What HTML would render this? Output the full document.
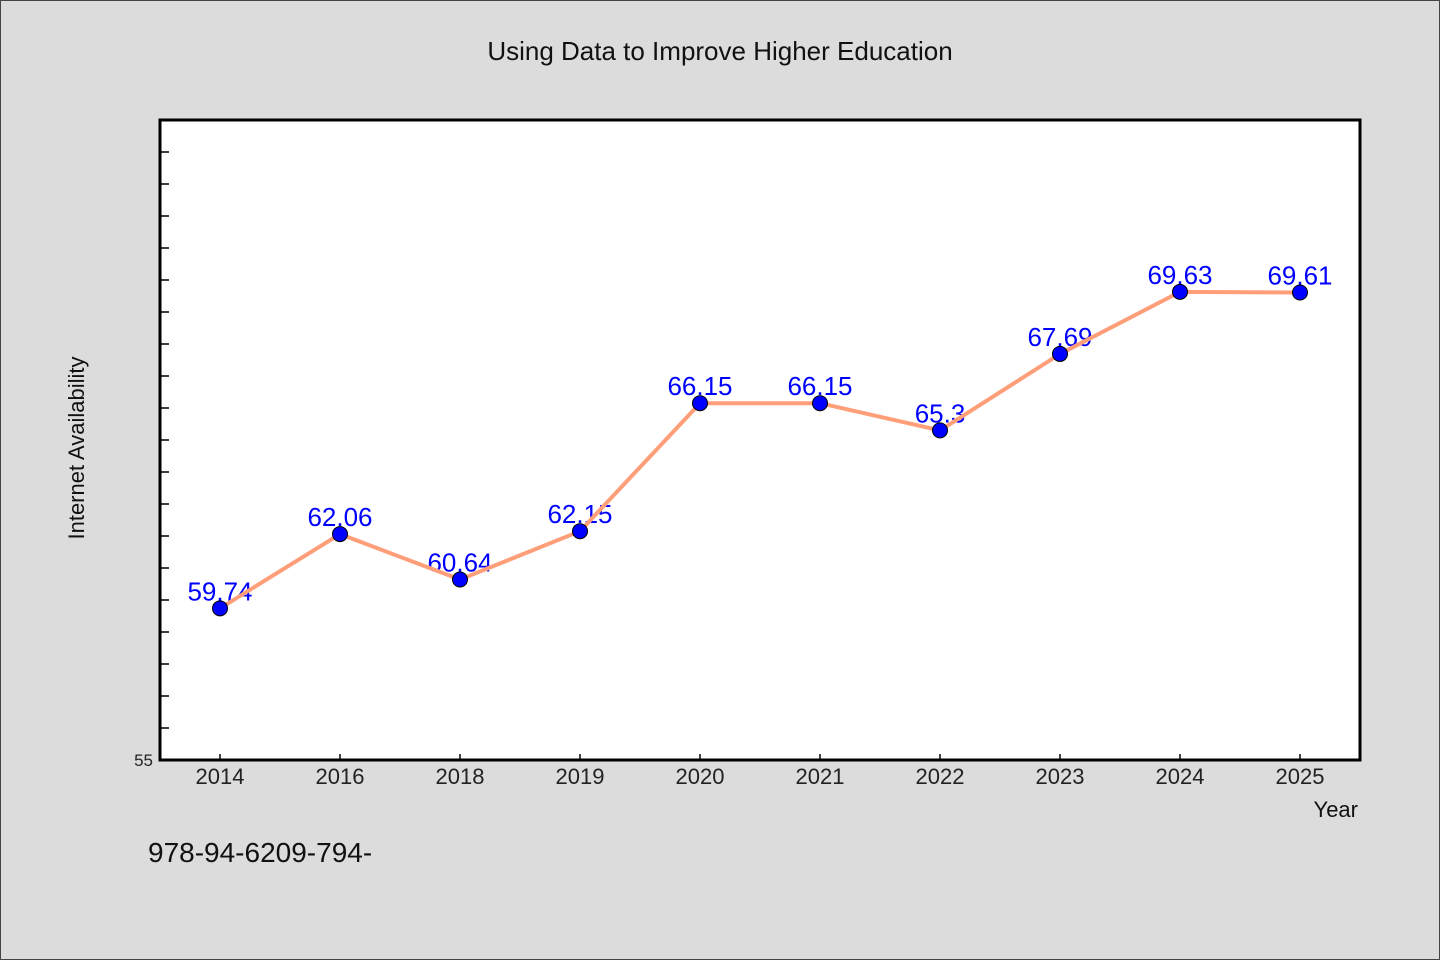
<!DOCTYPE html>
<html><head><meta charset="utf-8"><style>
body{margin:0;background:#dcdcdc;}
svg{display:block;}
text{font-family:"WenQuanYi Zen Hei","Liberation Sans",sans-serif;}
</style></head><body>
<svg id="c" width="1440" height="960" xmlns="http://www.w3.org/2000/svg">
<rect x="0.5" y="0.5" width="1439" height="959" fill="#dcdcdc" stroke="#444"/>
<text x="720" y="60" text-anchor="middle" font-size="26" fill="#111">Using Data to Improve Higher Education</text>
<rect x="160" y="120" width="1200" height="640" fill="#fff"/>
<g id="ticks"></g>
<g id="labels"></g>
<g id="series"></g>
<rect x="160" y="120" width="1200" height="640" fill="none" stroke="#000" stroke-width="3"/>
<text x="84" y="448" text-anchor="middle" font-size="22" fill="#111" transform="rotate(-90 84 448)">Internet Availability</text>
<text x="1358" y="817" text-anchor="end" font-size="22" fill="#111">Year</text>
<text x="148" y="862" font-size="28" fill="#111">978-94-6209-794-</text>
</svg>
<script>
const categories=["2014","2016","2018","2019","2020","2021","2022","2023","2024","2025"];
const values=[59.74,62.06,60.64,62.15,66.15,66.15,65.3,67.69,69.63,69.61];
const valueLabels=["59.74","62.06","60.64","62.15","66.15","66.15","65.3","67.69","69.63","69.61"];
const yMin=55,yMax=75;
const L=160,R=1360,T=120,B=760;
const NS="http://www.w3.org/2000/svg";
function xs(i){return L+(R-L)/categories.length*(i+0.5);}
function ys(v){return B-(v-yMin)/(yMax-yMin)*(B-T);}
function mk(tag,attrs,parent){const e=document.createElementNS(NS,tag);for(const k in attrs)e.setAttribute(k,attrs[k]);parent.appendChild(e);return e;}
const tg=document.getElementById('ticks'),lg=document.getElementById('labels'),sg=document.getElementById('series');
for(let v=yMin+1;v<yMax;v++){
  const t=mk('line',{x1:L,x2:L+9,y1:ys(v),y2:ys(v),stroke:'#000','stroke-width':1.5},tg);
  
  
}
const yl=mk('text',{x:153,y:ys(yMin)+6,'text-anchor':'end','font-size':17,fill:'#222'},tg);
yl.textContent=String(yMin);


categories.forEach((c,i)=>{
  const t=mk('line',{x1:xs(i),x2:xs(i),y1:B,y2:B-6,stroke:'#000','stroke-width':1.5},tg);
  
  
  const tx=mk('text',{x:xs(i),y:B+24,'text-anchor':'middle','font-size':22,fill:'#222'},tg);
  tx.textContent=c;
  
  
  const vl=mk('text',{x:xs(i),y:ys(values[i])-8,'text-anchor':'middle','font-size':26,fill:'#0000ff'},lg);
  vl.textContent=valueLabels[i];
  
  
});
const line=mk('polyline',{points:values.map((v,i)=>xs(i)+','+ys(v)).join(' '),fill:'none',stroke:'#ff9f7a','stroke-width':4,'stroke-linejoin':'round'},sg);


values.forEach((v,i)=>{
  const p=mk('circle',{cx:xs(i),cy:ys(v),r:7.5,fill:'#0000ff',stroke:'#000','stroke-width':1},sg);
  
  
});
</script>
</body></html>
